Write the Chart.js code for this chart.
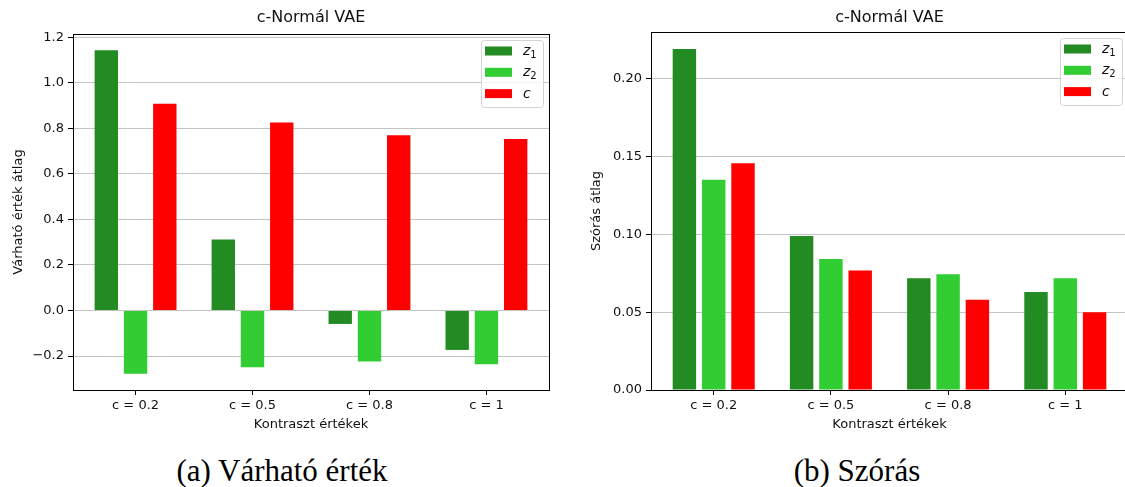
<!DOCTYPE html>
<html>
<head>
<meta charset="utf-8">
<script src="https://cdn.jsdelivr.net/npm/chart.js@4.4.1/dist/chart.umd.min.js"></script>
<style>
  html, body { margin: 0; padding: 0; background: #fff; }
  #wrap { position: relative; width: 1125px; height: 487px; overflow: hidden; }
  canvas { position: absolute; top: 0; }
  #chartMean { left: 0; }
  #chartStd { left: 580px; }
  .caption {
    position: absolute; top: 453px; transform: translateX(-50%);
    font-family: 'Liberation Serif', serif; font-size: 31px; color: #000; white-space: nowrap;
  }
</style>
</head>
<body>
<div id="wrap">
  <canvas id="chartMean" width="560" height="440"></canvas>
  <canvas id="chartStd" width="560" height="440"></canvas>
  <div class="caption" style="left:282px">(a) Várható érték</div>
  <div class="caption" style="left:857px">(b) Szórás</div>
</div>
<script>
// kategóriák és sorozatok
const categories = ['c = 0.2', 'c = 0.5', 'c = 0.8', 'c = 1'];
const seriesNames = ['z1', 'z2', 'c'];
const seriesColors = ['#228b22', '#32cd32', '#ff0000'];

// várható érték átlag
const meanZ1 = [1.143, 0.312, -0.059, -0.173];
const meanZ2 = [-0.278, -0.249, -0.224, -0.236];
const meanC = [0.908, 0.825, 0.769, 0.753];
const meanTicks = [-0.2, 0.0, 0.2, 0.4, 0.6, 0.8, 1.0, 1.2];

// szórás átlag
const stdZ1 = [0.219, 0.099, 0.0718, 0.063];
const stdZ2 = [0.135, 0.0842, 0.0743, 0.0718];
const stdC = [0.1456, 0.0767, 0.058, 0.0499];
const stdTicks = [0.00, 0.05, 0.10, 0.15, 0.20];

Chart.defaults.font.family = "'DejaVu Sans', sans-serif";
Chart.defaults.color = '#111';

// teljes keret a rajzterület körül
const frame = {
    id: 'frame',
    afterDatasetsDraw(chart) {
        const a = chart.chartArea, ctx = chart.ctx;
        ctx.save();
        ctx.strokeStyle = '#000';
        ctx.lineWidth = 1;
        ctx.strokeRect(Math.round(a.left) + 0.5, Math.round(a.top) + 0.5,
            Math.round(a.right - a.left), Math.round(a.bottom - a.top));
        ctx.restore();
    }
};

// jelmagyarázat a jobb felső sarokban
const legendBox = {
    id: 'legendBox',
    afterDraw(chart) {
        const a = chart.chartArea, ctx = chart.ctx;
        const w = 62, h = 67;
        const x = Math.round(a.right - 6 - w), y = Math.round(a.top + 6);
        ctx.save();
        ctx.beginPath();
        ctx.roundRect(x + 0.5, y + 0.5, w, h, 3);
        ctx.fillStyle = 'rgba(255,255,255,0.8)';
        ctx.fill();
        ctx.strokeStyle = '#d4d4d4';
        ctx.lineWidth = 1;
        ctx.stroke();
        chart.data.datasets.forEach((ds, i) => {
            const cy = y + 11 + i * 21.3;
            ctx.fillStyle = ds.backgroundColor;
            ctx.fillRect(x + 4, cy - 4.5, 27, 9);
            ctx.fillStyle = '#111';
            ctx.textBaseline = 'alphabetic';
            ctx.font = "italic 14px 'DejaVu Sans'";
            const base = cy + 4;
            const letter = ds.label.charAt(0);
            ctx.fillText(letter, x + 42, base);
            if (ds.label.length > 1) {
                const lw = ctx.measureText(letter).width;
                ctx.font = "10px 'DejaVu Sans'";
                ctx.fillText(ds.label.slice(1), x + 42 + lw, base + 3);
            }
        });
        ctx.restore();
    }
};

function makeChart(id, values, opt) {
    const datasets = values.map((vals, k) => ({
        label: seriesNames[k],
        data: vals.map((v, i) => ({ x: i, y: v })),
        backgroundColor: seriesColors[k],
        borderWidth: 0,
        categoryPercentage: 0.75,
        barPercentage: 0.8
    }));
    const font13 = { size: 13 };
    return new Chart(document.getElementById(id), {
        type: 'bar',
        data: { datasets: datasets },
        options: {
            responsive: false,
            animation: false,
            devicePixelRatio: 1,
            layout: { padding: { left: 0, right: opt.padRight, top: 0, bottom: 0 } },
            plugins: {
                legend: { display: false },
                tooltip: { enabled: false },
                title: {
                    display: true,
                    text: 'c-Normál VAE',
                    fullSize: false,
                    color: '#111',
                    font: { size: 16, weight: 'normal', lineHeight: 1.125 },
                    padding: { top: 9, bottom: opt.titleBottom }
                }
            },
            scales: {
                x: {
                    type: 'linear',
                    min: -0.535,
                    max: 3.535,
                    offset: false,
                    afterBuildTicks: s => { s.ticks = categories.map((_, i) => ({ value: i })); },
                    afterFit: s => { s.height = 50; },
                    ticks: {
                        callback: v => categories[v],
                        autoSkip: false,
                        maxRotation: 0,
                        padding: 3,
                        font: font13
                    },
                    grid: { drawOnChartArea: false, tickColor: '#000', tickLength: 5, offset: false },
                    border: { display: false },
                    title: {
                        display: true,
                        text: 'Kontraszt értékek',
                        font: font13,
                        padding: { top: 0, bottom: 8 }
                    }
                },
                y: {
                    min: opt.yMin,
                    max: opt.yMax,
                    afterBuildTicks: s => { s.ticks = opt.yTicks.map(v => ({ value: v })); },
                    afterFit: s => { s.width = opt.yWidth; },
                    ticks: {
                        callback: v => v.toFixed(opt.dec).replace('-', '\u2212'),
                        padding: 4,
                        font: font13
                    },
                    grid: { color: '#c4c4c4', tickColor: '#000', tickLength: 5 },
                    border: { display: false },
                    title: {
                        display: true,
                        text: opt.yTitle,
                        font: font13,
                        padding: { top: opt.yTitlePad, bottom: 0 }
                    }
                }
            }
        },
        plugins: [frame, legendBox]
    });
}

makeChart('chartMean', [meanZ1, meanZ2, meanC], {
    yMin: -0.349, yMax: 1.214, yTicks: meanTicks, dec: 1,
    yTitle: 'Várható érték átlag', yTitlePad: 11, yWidth: 73,
    padRight: 11, titleBottom: 7
});

makeChart('chartStd', [stdZ1, stdZ2, stdC], {
    yMin: 0, yMax: 0.23, yTicks: stdTicks, dec: 2,
    yTitle: 'Szórás átlag', yTitlePad: 9, yWidth: 71,
    padRight: 12, titleBottom: 5
});
</script>
</body>
</html>
